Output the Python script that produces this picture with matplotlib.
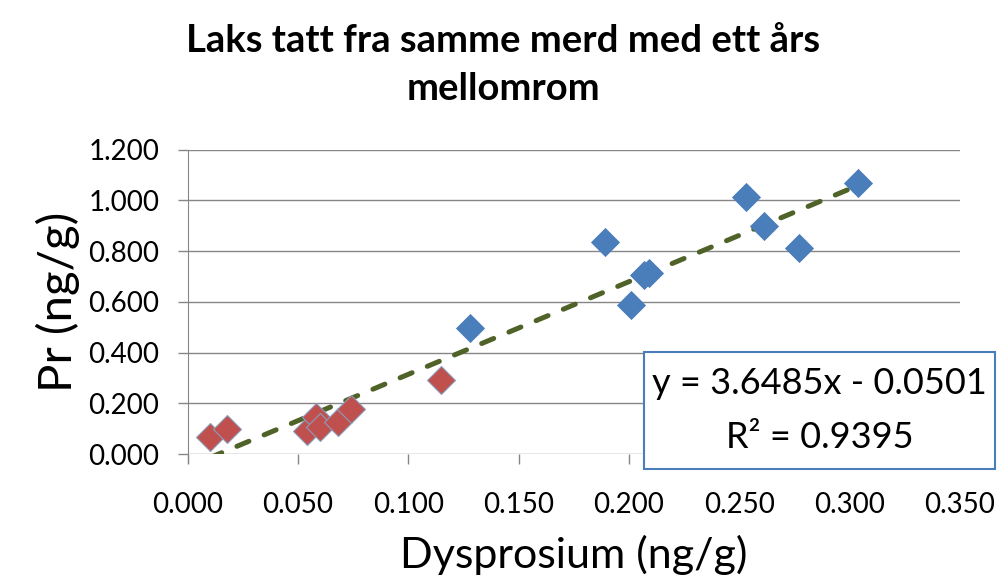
import numpy as np
import matplotlib
matplotlib.use("Agg")
import matplotlib.pyplot as plt
from matplotlib.patches import Rectangle

plt.rcParams['font.family'] = ['Lato', 'DejaVu Sans']

# data (Dysprosium vs Pr, ng/g)
dy_blue = [0.128, 0.189, 0.201, 0.207, 0.209, 0.253, 0.261, 0.277, 0.304]
pr_blue = [0.498, 0.837, 0.588, 0.706, 0.713, 1.014, 0.899, 0.811, 1.067]
dy_red = [0.010, 0.018, 0.054, 0.058, 0.060, 0.068, 0.074, 0.115]
pr_red = [0.067, 0.101, 0.092, 0.146, 0.109, 0.128, 0.180, 0.291]

slope = 3.6485
intercept = -0.0501
r2 = 0.9395

x_ticks = [0.0, 0.05, 0.1, 0.15, 0.2, 0.25, 0.3, 0.35]
y_ticks = [0.0, 0.2, 0.4, 0.6, 0.8, 1.0, 1.2]

W, H = 1003, 587
fig = plt.figure(figsize=(W / 100, H / 100), dpi=100)
ax = fig.add_axes([0.1871, 0.2261, 0.7699, 0.5192])

grid_col = '#868686'
for y in y_ticks:
    ax.axhline(y, color=grid_col, lw=1.0, zorder=1)

# trendline over the range of all points
all_x = np.array(dy_blue + dy_red)
xs = np.array([all_x.min(), all_x.max()])
ax.plot(xs, slope * xs + intercept, color='#4f6228', lw=3.6,
        dashes=(2.6, 3.3), zorder=3, dash_capstyle='round')

ax.plot(dy_blue, pr_blue, 'D', color='#4a7ebb', markersize=14.5,
        markeredgewidth=0.6, markeredgecolor='#4a7ebb', zorder=4)
ax.plot(dy_red, pr_red, 'D', color='#c0504d', markersize=14.5,
        markeredgewidth=0.8, markeredgecolor='#8c9dbd', zorder=4)

ax.set_xlim(0, 0.35)
ax.set_ylim(0, 1.2)
ax.set_xticks(x_ticks)
ax.set_yticks(y_ticks)
ax.set_xticklabels([f"{v:.3f}" for v in x_ticks])
ax.set_yticklabels([f"{v:.3f}" for v in y_ticks])
ax.tick_params(axis='both', direction='out', length=7.5, width=1,
               color=grid_col, labelsize=20)
ax.tick_params(axis='y', pad=13)
ax.tick_params(axis='x', pad=20)

for s in ['top', 'right', 'bottom']:
    ax.spines[s].set_visible(False)
ax.spines['left'].set_color(grid_col)
ax.spines['left'].set_bounds(-0.035, 1.2)
ax.spines['left'].set_clip_on(False)

ax.set_xlabel("Dysprosium (ng/g)", fontsize=31, labelpad=12)
ax.set_ylabel("Pr (ng/g)", fontsize=34, labelpad=6)

fig.text(0.5015, 1 - 41 / H, "Laks tatt fra samme merd med ett års",
         ha='center', va='center', fontsize=27.5, fontweight='bold')
fig.text(0.5015, 1 - 89 / H, "mellomrom",
         ha='center', va='center', fontsize=27.5, fontweight='bold')

# equation box
x0, y0, x1, y1 = 644, 352, 995, 469
fig.add_artist(Rectangle((x0 / W, 1 - y1 / H), (x1 - x0) / W, (y1 - y0) / H,
                         transform=fig.transFigure, facecolor='white',
                         edgecolor='#4a7ebb', lw=1.5, zorder=5))
cx = (x0 + x1) / 2 / W
fig.text(cx, 1 - 384 / H, f"y = {slope}x - {abs(intercept):.4f}",
         ha='center', va='center', fontsize=26, zorder=6)
fig.text(cx, 1 - 437 / H, f"R² = {r2}", ha='center', va='center',
         fontsize=26, zorder=6)

fig.savefig("out.png", dpi=100)
